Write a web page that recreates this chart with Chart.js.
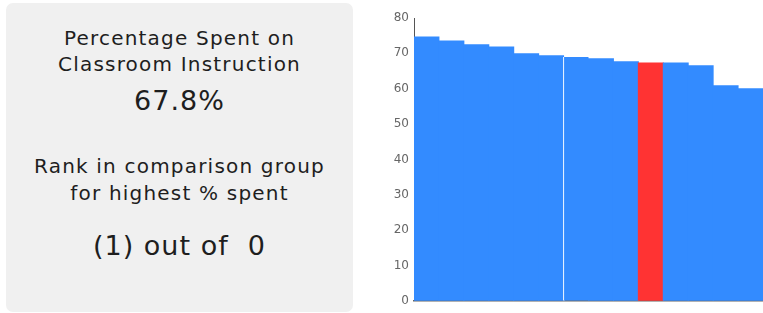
<!DOCTYPE html>
<html>
<head>
<meta charset="utf-8">
<script src="https://cdn.jsdelivr.net/npm/chart.js@4"></script>
<style>
  body { margin: 0; background: #fff; font-family: "DejaVu Sans", sans-serif; color: #1e1e1e; }
  .panel { position: absolute; left: 6px; top: 3px; width: 347px; height: 309px; background: #f0f0f0; border-radius: 7px; }
  .line { position: absolute; left: 0; width: 100%; text-align: center; white-space: pre; }
  .small { font-size: 20px; letter-spacing: 1.2px; }
  .big { font-size: 27px; letter-spacing: 1px; }
  .chart-wrap { position: absolute; left: 370px; top: 0; width: 393px; height: 313px; }
</style>
</head>
<body>
<div class="panel">
  <div class="line small" style="top:23.4px;">Percentage Spent on</div>
  <div class="line small" style="top:49.4px;">Classroom Instruction</div>
  <div class="line big" style="top:81.9px;">67.8%</div>
  <div class="line small" style="top:151.4px;">Rank in comparison group</div>
  <div class="line small" style="top:178.4px;">for highest % spent</div>
  <div class="line big" style="top:226.9px;">(1) out of  0</div>
</div>
<div class="chart-wrap"><canvas id="c"></canvas></div>
<script>
// values, one per school in the comparison group
const schools = ['1', '2', '3', '4', '5', '6', '7', '8', '9', '10', '11', '12', '13', '14'];
const spentPct = [74.6, 73.5, 72.4, 71.8, 69.9, 69.3, 69.0, 68.5, 67.6, 67.3, 67.3, 66.5, 60.8, 60.0];
const highlightIndex = 9;
const yTicks = [0, 10, 20, 30, 40, 50, 60, 70, 80];

const blue = '#338bff';
const red = '#ff3333';

new Chart(document.getElementById('c'), {
  type: 'bar',
  data: {
    labels: schools,
    datasets: [{
      data: spentPct,
      backgroundColor: spentPct.map((v, i) => i === highlightIndex ? red : blue),
      borderColor: '#ffffff',
      // thin white seam in front of the 7th bar, as in the original
      borderWidth: ctx => ctx.dataIndex === 6 ? { left: 1, top: 0, right: 0, bottom: 0 } : 0,
      borderSkipped: false,
      inflateAmount: 0.5,
      barPercentage: 1,
      categoryPercentage: 1
    }]
  },
  options: {
    responsive: true,
    maintainAspectRatio: false,
    animation: false,
    layout: { padding: { top: 18, bottom: 11, right: 0, left: 0 } },
    plugins: { legend: { display: false }, tooltip: { enabled: false } },
    scales: {
      x: {
        ticks: { display: false },
        grid: { display: false, drawTicks: false },
        border: { display: true, color: '#666', width: 1.5 },
        afterFit: scale => { scale.height = 0; }
      },
      y: {
        min: 0,
        max: 80,
        afterBuildTicks: scale => { scale.ticks = yTicks.map(v => ({ value: v })); },
        ticks: { color: '#666', font: { family: 'DejaVu Sans', size: 12 }, padding: 5 },
        grid: { display: false, drawTicks: false },
        border: { display: true, color: '#555', width: 1 },
        afterFit: scale => { scale.width = 44; }
      }
    }
  }
});
</script>
</body>
</html>
